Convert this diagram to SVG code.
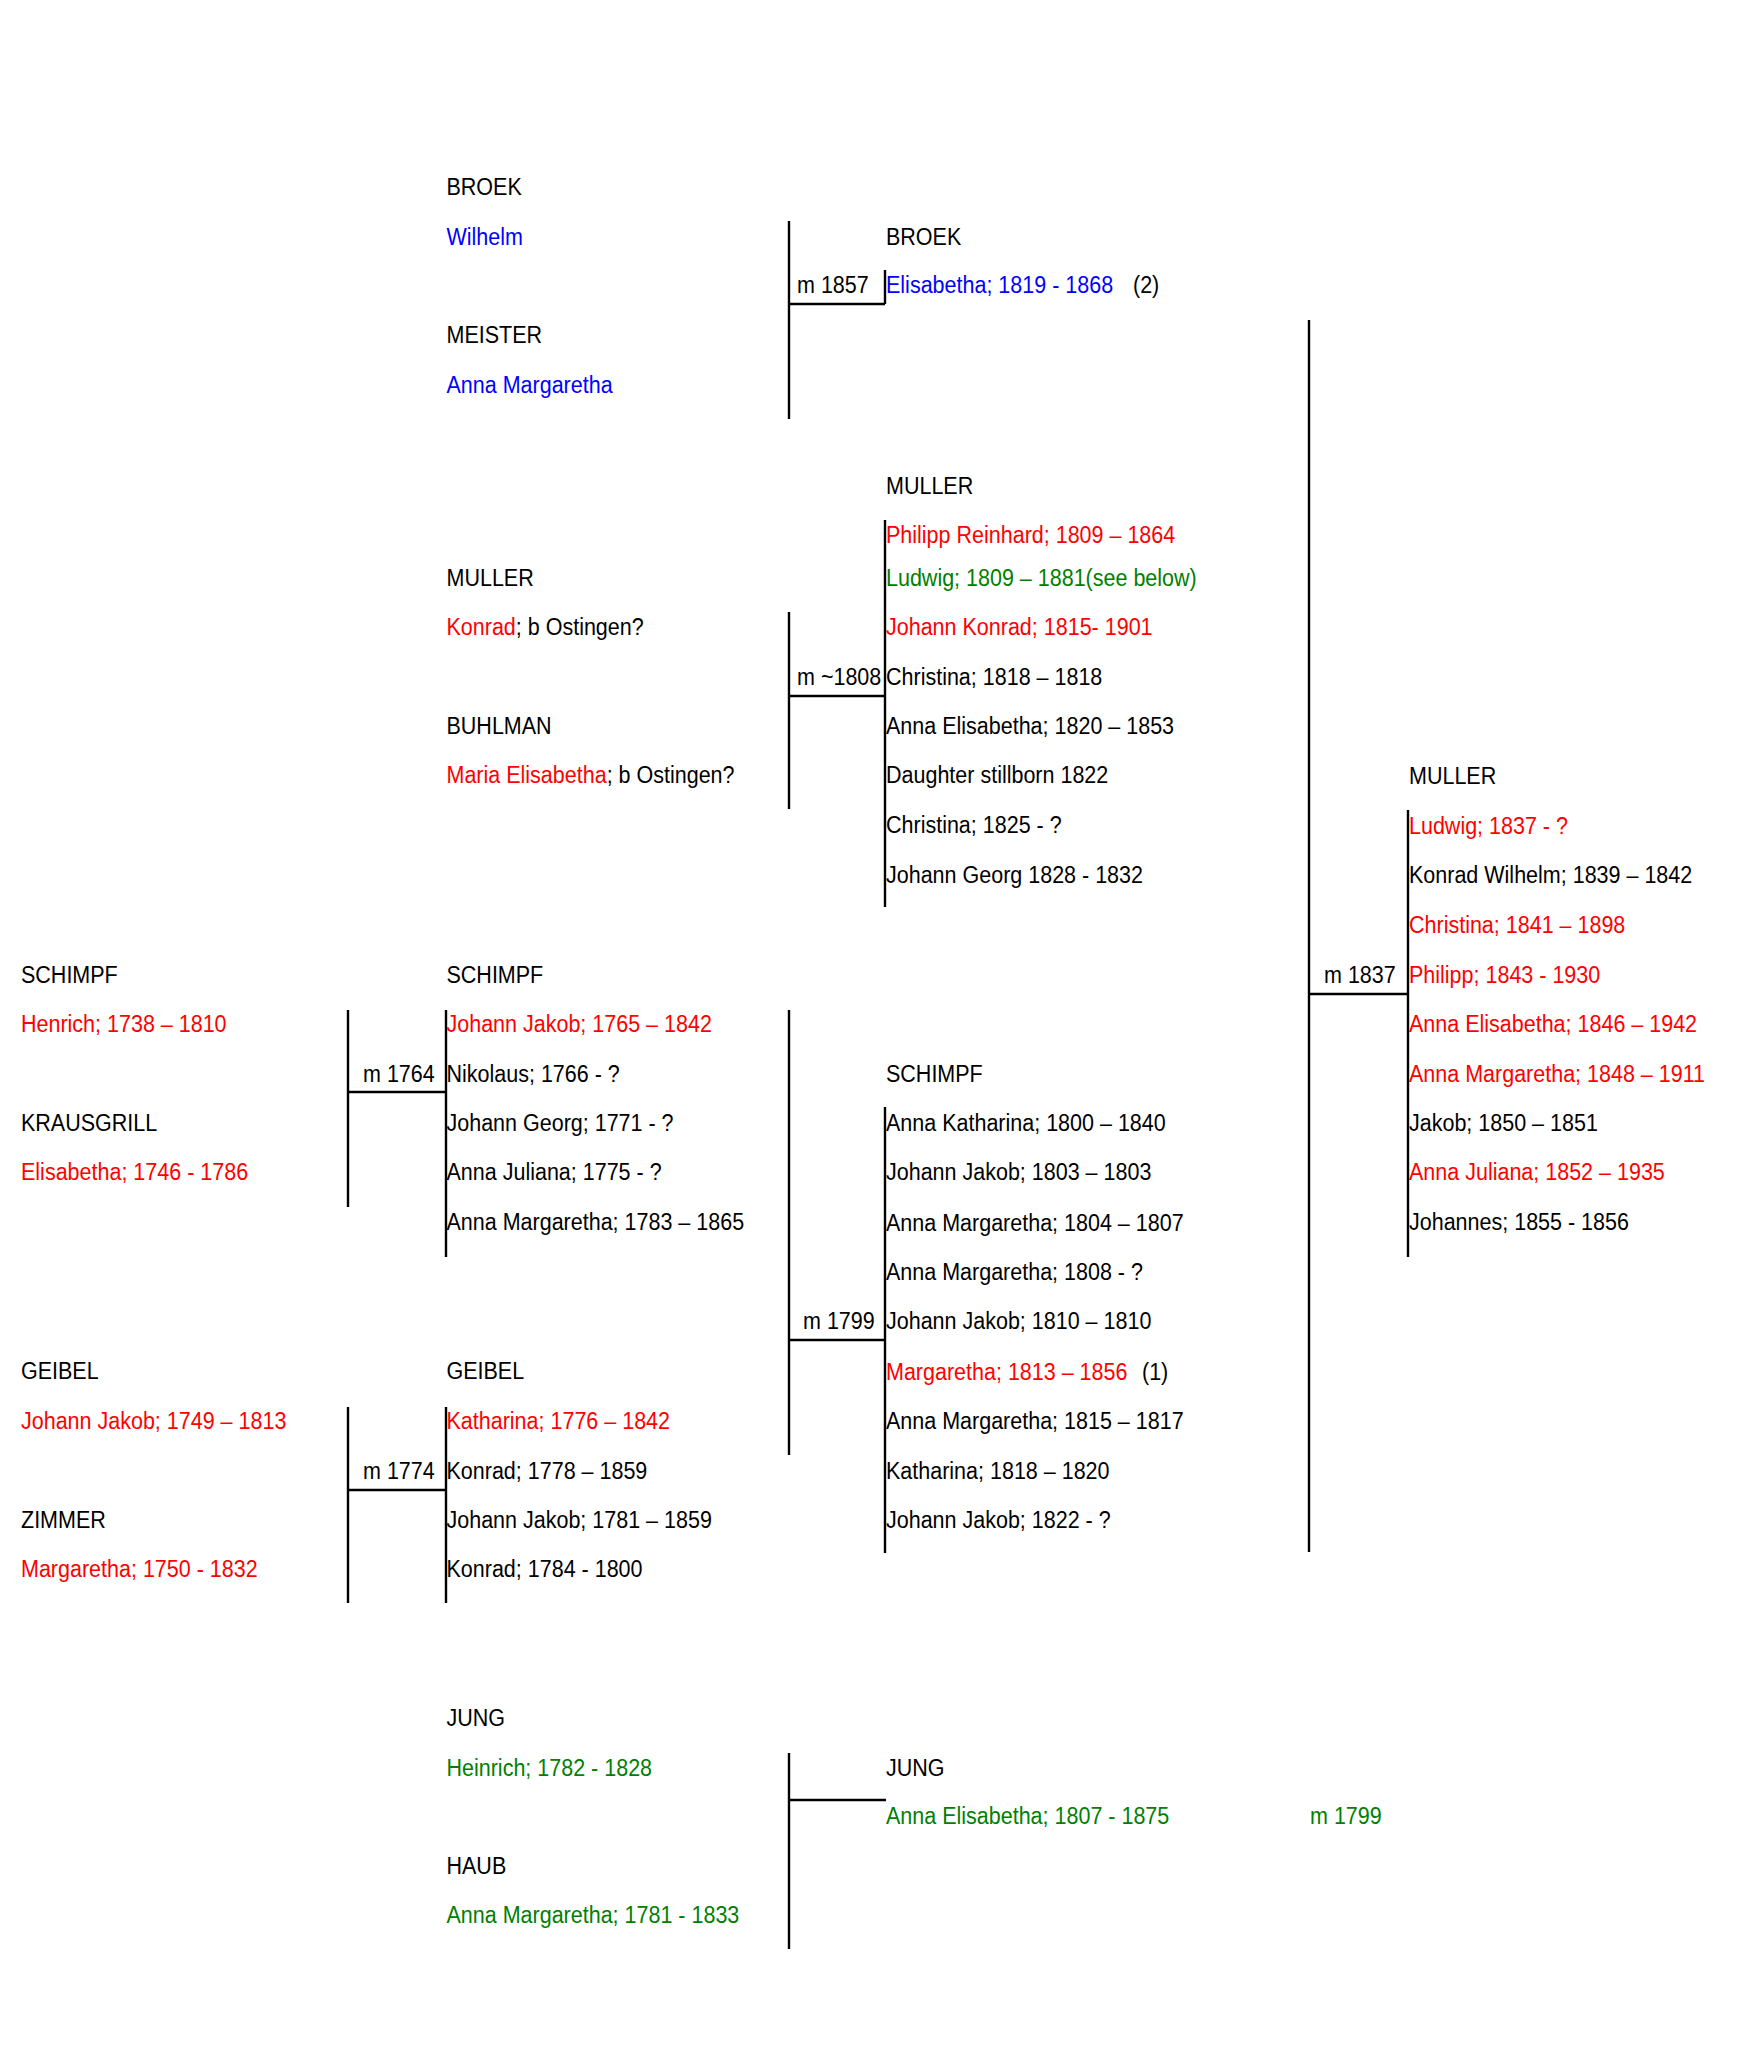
<svg xmlns="http://www.w3.org/2000/svg" width="1758" height="2062" viewBox="0 0 1758 2062">
<style>
text { font-family: "Liberation Sans", Arial, sans-serif; font-size: 21.5px; fill: #000; }
.r { fill: #FF0000; }
.b { fill: #0000FF; }
.g { fill: #008000; }
.ln { stroke: #000; stroke-width: 2.4; fill: none; }
</style>
<rect x="0" y="0" width="1758" height="2062" fill="#fff"/>

<g id="connectors">
  <path class="ln" d="M789 221V419 M789 304H885 M885 270V304"/>
  <path class="ln" d="M789 612V809 M789 696H885 M885 520V907"/>
  <path class="ln" d="M348 1010V1207 M348 1092H446 M446 1010V1257"/>
  <path class="ln" d="M789 1010V1455 M789 1340H885 M885 1107V1553"/>
  <path class="ln" d="M348 1407V1603 M348 1490H446 M446 1407V1603"/>
  <path class="ln" d="M789 1753V1949 M789 1800H886"/>
  <path class="ln" d="M1309 320V1552 M1309 994H1408 M1408 810V1257"/>
</g>

<g id="marriages">
  <text transform="translate(797 293) scale(1 1.13)">m 1857</text>
  <text transform="translate(797 685) scale(1 1.13)">m ~1808</text>
  <text transform="translate(363 1082) scale(1 1.13)">m 1764</text>
  <text transform="translate(363 1479) scale(1 1.13)">m 1774</text>
  <text transform="translate(803 1329) scale(1 1.13)">m 1799</text>
  <text transform="translate(1324 983) scale(1 1.13)">m 1837</text>
  <text class="g" transform="translate(1310 1824) scale(1 1.13)">m 1799</text>
</g>

<g id="broek-wilhelm">
  <text transform="translate(446.5 195) scale(1 1.13)">BROEK</text>
  <text class="b" transform="translate(446.5 245) scale(1 1.13)">Wilhelm</text>
</g>
<g id="meister-anna-margaretha">
  <text transform="translate(446.5 343) scale(1 1.13)">MEISTER</text>
  <text class="b" transform="translate(446.5 393) scale(1 1.13)">Anna Margaretha</text>
</g>
<g id="broek-elisabetha">
  <text transform="translate(886 245) scale(1 1.13)">BROEK</text>
  <text class="b" transform="translate(886 293) scale(1 1.13)">Elisabetha; 1819 - 1868</text>
  <text transform="translate(1133 293) scale(1 1.13)">(2)</text>
</g>

<g id="muller-konrad">
  <text transform="translate(446.5 586) scale(1 1.13)">MULLER</text>
  <text transform="translate(446.5 635) scale(1 1.13)"><tspan class="r">Konrad</tspan>; b Ostingen?</text>
</g>
<g id="buhlman-maria-elisabetha">
  <text transform="translate(446.5 734) scale(1 1.13)">BUHLMAN</text>
  <text transform="translate(446.5 783) scale(1 1.13)"><tspan class="r">Maria Elisabetha</tspan>; b Ostingen?</text>
</g>
<g id="muller-children">
  <text transform="translate(886 494) scale(1 1.13)">MULLER</text>
  <text class="r" transform="translate(886 543) scale(1 1.13)">Philipp Reinhard; 1809 – 1864</text>
  <text class="g" transform="translate(886 586) scale(1 1.13)">Ludwig; 1809 – 1881(see below)</text>
  <text class="r" transform="translate(886 635) scale(1 1.13)">Johann Konrad; 1815- 1901</text>
  <text transform="translate(886 685) scale(1 1.13)">Christina; 1818 – 1818</text>
  <text transform="translate(886 734) scale(1 1.13)">Anna Elisabetha; 1820 – 1853</text>
  <text transform="translate(886 783) scale(1 1.13)">Daughter stillborn 1822</text>
  <text transform="translate(886 833) scale(1 1.13)">Christina; 1825 - ?</text>
  <text transform="translate(886 883) scale(1 1.13)">Johann Georg 1828 - 1832</text>
</g>

<g id="schimpf-henrich">
  <text transform="translate(21 983) scale(1 1.13)">SCHIMPF</text>
  <text class="r" transform="translate(21 1032) scale(1 1.13)">Henrich; 1738 – 1810</text>
</g>
<g id="krausgrill-elisabetha">
  <text transform="translate(21 1131) scale(1 1.13)">KRAUSGRILL</text>
  <text class="r" transform="translate(21 1180) scale(1 1.13)">Elisabetha; 1746 - 1786</text>
</g>
<g id="schimpf-children">
  <text transform="translate(446.5 983) scale(1 1.13)">SCHIMPF</text>
  <text class="r" transform="translate(446.5 1032) scale(1 1.13)">Johann Jakob; 1765 – 1842</text>
  <text transform="translate(446.5 1082) scale(1 1.13)">Nikolaus; 1766 - ?</text>
  <text transform="translate(446.5 1131) scale(1 1.13)">Johann Georg; 1771 - ?</text>
  <text transform="translate(446.5 1180) scale(1 1.13)">Anna Juliana; 1775 - ?</text>
  <text transform="translate(446.5 1230) scale(1 1.13)">Anna Margaretha; 1783 – 1865</text>
</g>

<g id="geibel-johann-jakob">
  <text transform="translate(21 1379) scale(1 1.13)">GEIBEL</text>
  <text class="r" transform="translate(21 1429) scale(1 1.13)">Johann Jakob; 1749 – 1813</text>
</g>
<g id="zimmer-margaretha">
  <text transform="translate(21 1528) scale(1 1.13)">ZIMMER</text>
  <text class="r" transform="translate(21 1577) scale(1 1.13)">Margaretha; 1750 - 1832</text>
</g>
<g id="geibel-children">
  <text transform="translate(446.5 1379) scale(1 1.13)">GEIBEL</text>
  <text class="r" transform="translate(446.5 1429) scale(1 1.13)">Katharina; 1776 – 1842</text>
  <text transform="translate(446.5 1479) scale(1 1.13)">Konrad; 1778 – 1859</text>
  <text transform="translate(446.5 1528) scale(1 1.13)">Johann Jakob; 1781 – 1859</text>
  <text transform="translate(446.5 1577) scale(1 1.13)">Konrad; 1784 - 1800</text>
</g>

<g id="schimpf-children-1799">
  <text transform="translate(886 1082) scale(1 1.13)">SCHIMPF</text>
  <text transform="translate(886 1131) scale(1 1.13)">Anna Katharina; 1800 – 1840</text>
  <text transform="translate(886 1180) scale(1 1.13)">Johann Jakob; 1803 – 1803</text>
  <text transform="translate(886 1231) scale(1 1.13)">Anna Margaretha; 1804 – 1807</text>
  <text transform="translate(886 1280) scale(1 1.13)">Anna Margaretha; 1808 - ?</text>
  <text transform="translate(886 1329) scale(1 1.13)">Johann Jakob; 1810 – 1810</text>
  <text class="r" transform="translate(886 1380) scale(1 1.13)">Margaretha; 1813 – 1856</text>
  <text transform="translate(1142 1380) scale(1 1.13)">(1)</text>
  <text transform="translate(886 1429) scale(1 1.13)">Anna Margaretha; 1815 – 1817</text>
  <text transform="translate(886 1479) scale(1 1.13)">Katharina; 1818 – 1820</text>
  <text transform="translate(886 1528) scale(1 1.13)">Johann Jakob; 1822 - ?</text>
</g>

<g id="muller-children-1837">
  <text transform="translate(1409 784) scale(1 1.13)">MULLER</text>
  <text class="r" transform="translate(1409 834) scale(1 1.13)">Ludwig; 1837 - ?</text>
  <text transform="translate(1409 883) scale(1 1.13)">Konrad Wilhelm; 1839 – 1842</text>
  <text class="r" transform="translate(1409 933) scale(1 1.13)">Christina; 1841 – 1898</text>
  <text class="r" transform="translate(1409 983) scale(1 1.13)">Philipp; 1843 - 1930</text>
  <text class="r" transform="translate(1409 1032) scale(1 1.13)">Anna Elisabetha; 1846 – 1942</text>
  <text class="r" transform="translate(1409 1082) scale(1 1.13)">Anna Margaretha; 1848 – 1911</text>
  <text transform="translate(1409 1131) scale(1 1.13)">Jakob; 1850 – 1851</text>
  <text class="r" transform="translate(1409 1180) scale(1 1.13)">Anna Juliana; 1852 – 1935</text>
  <text transform="translate(1409 1230) scale(1 1.13)">Johannes; 1855 - 1856</text>
</g>

<g id="jung-heinrich">
  <text transform="translate(446.5 1726) scale(1 1.13)">JUNG</text>
  <text class="g" transform="translate(446.5 1776) scale(1 1.13)">Heinrich; 1782 - 1828</text>
</g>
<g id="haub-anna-margaretha">
  <text transform="translate(446.5 1874) scale(1 1.13)">HAUB</text>
  <text class="g" transform="translate(446.5 1923) scale(1 1.13)">Anna Margaretha; 1781 - 1833</text>
</g>
<g id="jung-anna-elisabetha">
  <text transform="translate(886 1776) scale(1 1.13)">JUNG</text>
  <text class="g" transform="translate(886 1824) scale(1 1.13)">Anna Elisabetha; 1807 - 1875</text>
</g>
</svg>
